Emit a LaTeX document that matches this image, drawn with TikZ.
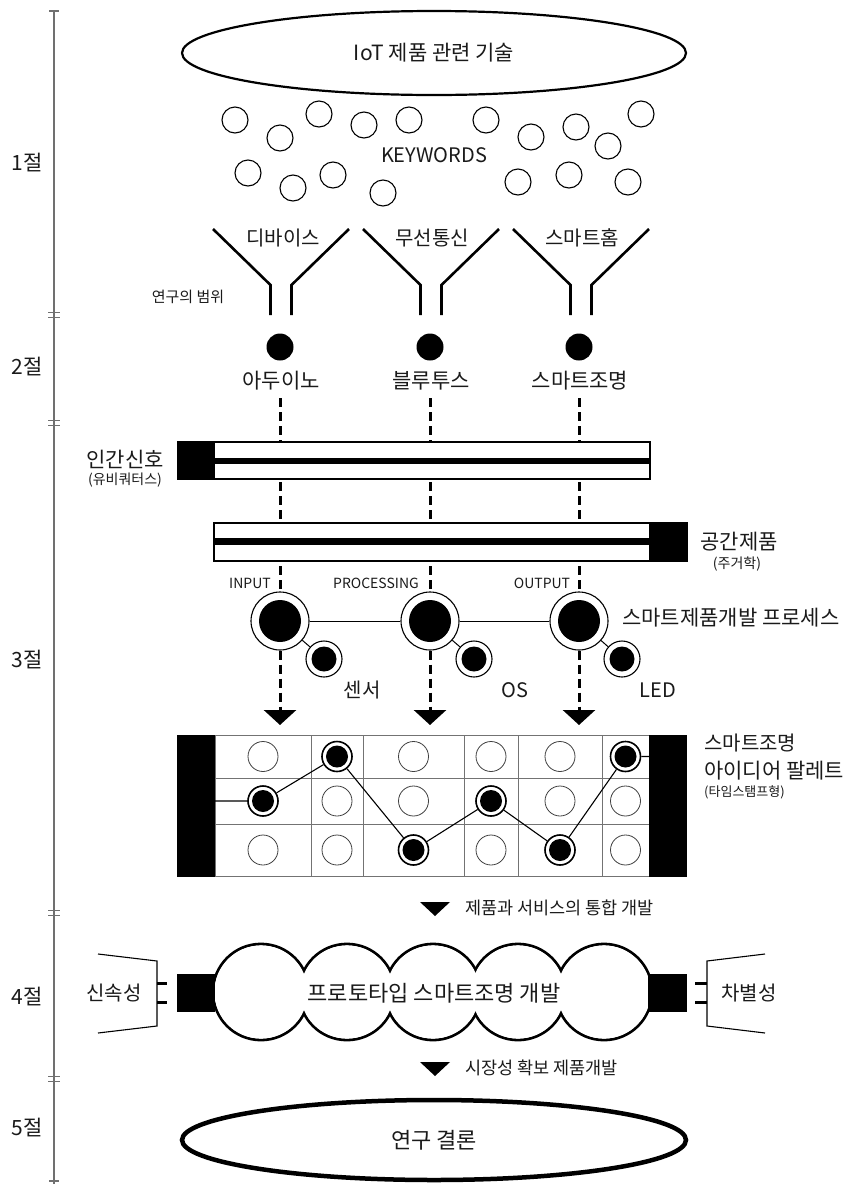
\documentclass[tikz,border=0pt]{standalone}
\usepackage{fontspec}
\setmainfont{Noto Sans CJK KR}
\usetikzlibrary{shapes.geometric,arrows.meta}
\newcommand\myfs[1]{\fontsize{#1}{#1}\selectfont}
\definecolor{ink}{HTML}{1A1A1A}
\definecolor{rule}{HTML}{707070}
\begin{document}
\begin{tikzpicture}[x=1pt,y=-1pt,
  txt/.style={inner sep=0pt, text=ink},
  kw/.style={circle, draw, line width=1.1pt, minimum size=26pt, inner sep=0pt},
  dotn/.style={circle, fill=black, minimum size=27pt, inner sep=0pt},
  funnel/.style={line width=2.6pt},
  dashl/.style={line width=3pt, dash pattern=on 9pt off 5pt},
  bigp/.style={circle, draw, line width=1.1pt, fill=white, minimum size=58pt, inner sep=0pt},
  smallp/.style={circle, draw, line width=1.1pt, fill=white, minimum size=36pt, inner sep=0pt},
  opn/.style={circle, draw=black!75, line width=0.8pt, fill=white, minimum size=30pt, inner sep=0pt},
  sel/.style={circle, draw, line width=1.6pt, fill=white, minimum size=30pt, inner sep=0pt},
  grid/.style={draw=black!55, line width=0.8pt},
  tri/.style={-{Triangle[width=32pt,length=15pt]}},
]
\useasboundingbox (0,0) rectangle (866,1184);

% ---------- ruler ----------
\draw[rule, line width=1.3pt] (54,11) -- (54,1184);
\draw[rule, line width=1.3pt] (49,11) -- (59,11);
\foreach \yy in {315,423,913,1079}{
  \draw[rule, line width=1.2pt] (48,\yy-2.5) -- (60,\yy-2.5);
  \draw[rule, line width=1.2pt] (48,\yy+2.5) -- (60,\yy+2.5);
}
\draw[rule, line width=1.3pt] (49,1181) -- (59,1181);
\node[txt, font=\myfs{21}] (s1) at (27,163) {1절};
\node[txt, font=\myfs{21}] (s2) at (27,367) {2절};
\node[txt, font=\myfs{21}] (s3) at (27,660) {3절};
\node[txt, font=\myfs{21}] (s4) at (27,997) {4절};
\node[txt, font=\myfs{21}] (s5) at (27,1128) {5절};

% ---------- top ellipse ----------
\node[ellipse, draw, line width=2.2pt, minimum width=504pt, minimum height=84pt, inner sep=0pt,
  font=\myfs{21}, text=ink] (iot) at (434,53) {IoT 제품 관련 기술};

% ---------- keyword circles ----------
\foreach \n/\cx/\cy in {1/235/120, 2/280/138, 3/319/114, 4/364/125, 5/409/120, 6/486/120,
  7/531/137, 8/576/127, 9/641/114, 10/608/146, 11/248/173, 12/293/188, 13/333/175,
  14/383/193, 15/518/182, 16/569/175, 17/628/182}{
  \node[kw] (k\n) at (\cx,\cy) {};
}
\node[txt, font=\myfs{20}] (kwd) at (434,155) {KEYWORDS};

% ---------- funnels ----------
\foreach \cx in {281,431,581}{
  \draw[funnel] (\cx-68,229) -- (\cx-10.5,285) -- (\cx-10.5,315);
  \draw[funnel] (\cx+68,229) -- (\cx+10.5,285) -- (\cx+10.5,315);
}
\node[txt, font=\myfs{20}] (f1) at (283,238) {디바이스};
\node[txt, font=\myfs{20}] (f2) at (432,238) {무선통신};
\node[txt, font=\myfs{20}] (f3) at (582,238) {스마트홈};
\node[txt, font=\myfs{15}] (scope) at (188,297) {연구의 범위};

% ---------- dots ----------
\node[dotn] (d1) at (280,347) {};
\node[dotn] (d2) at (430,347) {};
\node[dotn] (d3) at (579,347) {};
\node[txt, font=\myfs{21}] (l1) at (281,381) {아두이노};
\node[txt, font=\myfs{21}] (l2) at (431,381) {블루투스};
\node[txt, font=\myfs{21}] (l3) at (580,381) {스마트조명};

% ---------- process circles ----------
\coordinate (c1) at (280,398);
\coordinate (c2) at (430,398);
\coordinate (c3) at (579,398);
\coordinate (t1) at (280,725);
\coordinate (t2) at (430,725);
\coordinate (t3) at (579,725);
\node[bigp] (p1) at (280,621) {};
\node[bigp] (p2) at (430,621) {};
\node[bigp] (p3) at (579,621) {};
\node[smallp] (q1) at (324,659) {};
\node[smallp] (q2) at (474,659) {};
\node[smallp] (q3) at (622,659) {};
\foreach \nm in {p1,p2,p3}{ \fill (\nm.center) circle[radius=21pt]; }
\foreach \nm in {q1,q2,q3}{ \fill (\nm.center) circle[radius=12.5pt]; }
\draw[dashl] (c1) -- (p1.north);
\draw[dashl] (c2) -- (p2.north);
\draw[dashl] (c3) -- (p3.north);
\draw[dashl, tri] (p1.south) -- (t1);
\draw[dashl, tri] (p2.south) -- (t2);
\draw[dashl, tri] (p3.south) -- (t3);
\draw[line width=1pt] (p1) -- (p2);
\draw[line width=1pt] (p2) -- (p3);
\draw[line width=1pt] (p1) -- (q1);
\draw[line width=1pt] (p2) -- (q2);
\draw[line width=1pt] (p3) -- (q3);
\node[txt, font=\myfs{14}] (in) at (250,583) {INPUT};
\node[txt, font=\myfs{14}] (pr) at (376,583) {PROCESSING};
\node[txt, font=\myfs{14}] (out) at (542,583) {OUTPUT};
\node[txt, font=\myfs{21}, anchor=west] (proc) at (622,618) {스마트제품개발 프로세스};
\node[txt, font=\myfs{20}] (o1) at (362,690) {센서};
\node[txt, font=\myfs{20}] (o2) at (515,690) {OS};
\node[txt, font=\myfs{20}] (o3) at (658,690) {LED};

% ---------- bars ----------
\node[draw, line width=1.2pt, fill=white, minimum width=472pt, minimum height=37pt, inner sep=0pt] (bar1) at (414,460.5) {};
\fill (178,442) rectangle (215,479);
\fill (215,457.5) rectangle (650,464);
\node[draw, line width=1.2pt, fill=white, minimum width=473pt, minimum height=38pt, inner sep=0pt] (bar2) at (450.5,542) {};
\fill (649,523) rectangle (687,561);
\fill (214,538) rectangle (649,544.5);
\node[txt, font=\myfs{21}] (h1) at (125,459) {인간신호};
\node[txt, font=\myfs{14}] (h2) at (125,480) {(유비쿼터스)};
\node[txt, font=\myfs{21}] (b1) at (739,542) {공간제품};
\node[txt, font=\myfs{14}] (b2) at (737,564) {(주거학)};

% ---------- palette ----------
\draw[grid] (215,735) rectangle (649,876);
\foreach \gx in {311,363,464,518,602}{ \draw[grid] (\gx,735) -- (\gx,876); }
\foreach \gy in {778,824}{ \draw[grid] (215,\gy) -- (649,\gy); }
\fill (177,735) rectangle (215,877);
\fill (649,735) rectangle (687,877);
\coordinate (pl) at (215,801);
\coordinate (pr) at (649,756.5);
\foreach \c/\gx in {1/263,2/337,3/413.5,4/491,5/560,6/625.5}{
  \foreach \r/\gy in {1/756.5,2/801,3/850}{
    \node[opn] (g\c\r) at (\gx,\gy) {};
  }
}
\node[sel] (g12) at (263,801) {};
\node[sel] (g21) at (337,756.5) {};
\node[sel] (g33) at (413.5,850) {};
\node[sel] (g42) at (491,801) {};
\node[sel] (g53) at (560,850) {};
\node[sel] (g61) at (625.5,756.5) {};
\foreach \nm in {g12,g21,g33,g42,g53,g61}{ \fill (\nm.center) circle[radius=11pt]; }
\draw[line width=1.1pt] (pl) -- (g12) -- (g21) -- (g33) -- (g42) -- (g53) -- (g61) -- (pr);
\node[txt, font=\myfs{20}, anchor=west] (pa1) at (704,743) {스마트조명};
\node[txt, font=\myfs{21}, anchor=west] (pa2) at (704,771) {아이디어 팔레트};
\node[txt, font=\myfs{13}, anchor=west] (pa3) at (704,792) {(타임스탬프형)};

% ---------- integration arrow ----------
\fill (420,902) -- (450,902) -- (435,916) -- cycle;
\node[txt, font=\myfs{17.5}, anchor=west] (ar1) at (465,908) {제품과 서비스의 통합 개발};

% ---------- prototype ----------
\foreach \cx in {261,347,433,518,604}{ \draw[line width=2.8pt] (\cx,992) circle[radius=48pt]; }
\foreach \cx in {261,347,433,518,604}{ \fill[white] (\cx,992) circle[radius=46.6pt]; }
\fill (177,974) rectangle (215,1012);
\fill (648,974) rectangle (687,1012);
\node[txt, font=\myfs{22}] (proto) at (434,993) {프로토타입 스마트조명 개발};
\draw[line width=1.1pt] (98,954) -- (157,961) -- (157,1026) -- (98,1033);
\draw[line width=3pt] (157,983) -- (167,983);
\draw[line width=3pt] (157,1002) -- (167,1002);
\node[txt, font=\myfs{20}] (sp) at (114,993) {신속성};
\draw[line width=1.1pt] (765,954) -- (707,961) -- (707,1026) -- (765,1033);
\draw[line width=3pt] (695,983) -- (707,983);
\draw[line width=3pt] (695,1002) -- (707,1002);
\node[txt, font=\myfs{20}] (df) at (749,993) {차별성};

% ---------- market arrow ----------
\fill (420,1062) -- (450,1062) -- (435,1076) -- cycle;
\node[txt, font=\myfs{17.5}, anchor=west] (ar2) at (465,1068) {시장성 확보 제품개발};

% ---------- conclusion ----------
\node[ellipse, draw, line width=4.5pt, minimum width=504pt, minimum height=80pt, inner sep=0pt,
  font=\myfs{22}, text=ink] (concl) at (434,1140) {연구 결론};
\end{tikzpicture}
\end{document}
